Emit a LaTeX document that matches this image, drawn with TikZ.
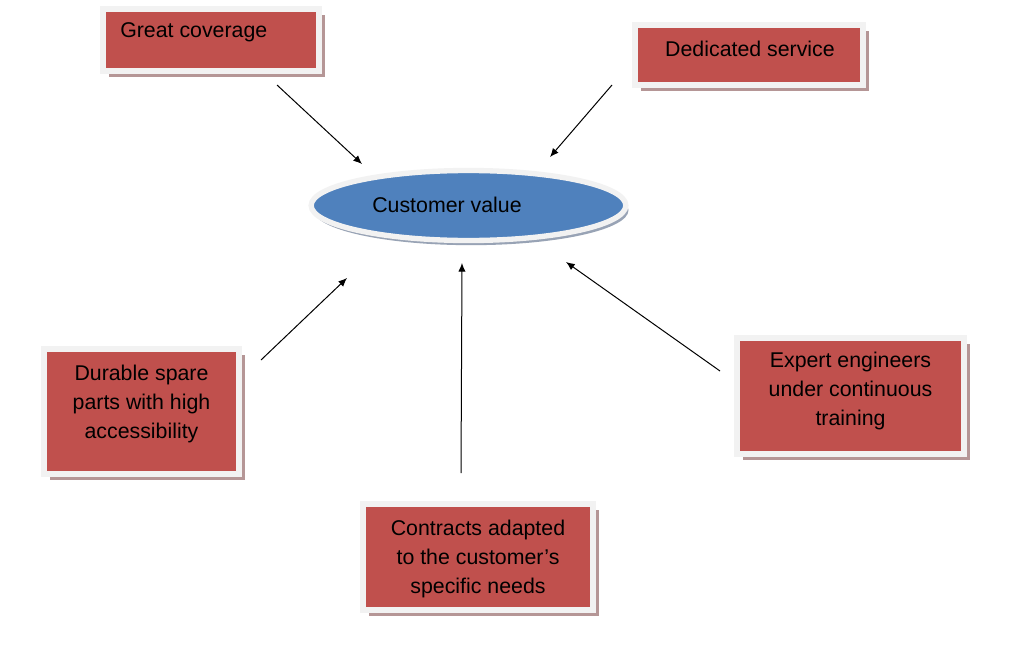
\documentclass[tikz,border=0pt]{standalone}
\usepackage{fontspec}
\setmainfont{Liberation Sans}
\usetikzlibrary{arrows.meta,shadows,shapes.geometric}
\definecolor{boxred}{HTML}{C0504D}
\definecolor{cvblue}{HTML}{4F81BD}
\definecolor{framegray}{HTML}{F2F2F2}
\definecolor{redshadow}{HTML}{B59696}
\definecolor{blueshadow}{HTML}{98A3B5}
\begin{document}
\begin{tikzpicture}[x=0.75pt,y=-0.75pt,
  redbox/.style={rectangle, fill=boxred, draw=framegray, line width=4.5pt,
    inner sep=0pt,
    drop shadow={shadow xshift=4.5pt, shadow yshift=-4.5pt, fill=redshadow, opacity=1}},
  cvell/.style={ellipse, fill=cvblue, draw=framegray, line width=4pt, inner sep=0pt,
    drop shadow={shadow xshift=2pt, shadow yshift=-3.5pt, fill=blueshadow, opacity=1}},
  lbl/.style={font=\fontsize{16pt}{21.75pt}\selectfont, align=center, inner sep=0pt, text=black},
  conn/.style={-{Latex[length=6.5pt,width=5.5pt]}, line width=0.75pt, black}
]
\useasboundingbox[fill=white] (0,0) rectangle (1011,646);
% boxes
\node[redbox, minimum width=162pt, minimum height=46.5pt] (gc) at (211,40) {};
\node[redbox, minimum width=171pt, minimum height=45pt] (ds) at (749,55) {};
\node[redbox, minimum width=146.25pt, minimum height=93.75pt] (dp) at (141.5,411.5) {};
\node[redbox, minimum width=172.5pt, minimum height=79.5pt] (ca) at (478,557) {};
\node[redbox, minimum width=170.25pt, minimum height=87pt] (ee) at (850.5,396) {};
% central ellipse
\node[cvell, minimum width=236pt, minimum height=52.5pt] (cv) at (468.5,205.5) {};
% texts
\node[lbl, anchor=west] (gct) at (120,32.5) {Great coverage};
\node[lbl] (dst) at (750,48.5) {Dedicated service};
\node[lbl] (cvt) at (447,205) {Customer value};
\node[lbl] (dpt) at (141.5,403.5) {Durable spare\\parts with high\\accessibility};
\node[lbl] (cat) at (478,558.5) {Contracts adapted\\to the customer’s\\specific needs};
\node[lbl] (eet) at (850.5,390.5) {Expert engineers\\under continuous\\training};
% connector ends
\coordinate (gcs) at (277,85);  \coordinate (gce) at (362,164);
\coordinate (dss) at (612,85);  \coordinate (dse) at (550,157);
\coordinate (dps) at (261,360); \coordinate (dpe) at (347,278);
\coordinate (cas) at (461,473); \coordinate (cae) at (462,263);
\coordinate (ees) at (720,371); \coordinate (eee) at (566,262);
\draw[conn] (gcs) -- (gce);
\draw[conn] (dss) -- (dse);
\draw[conn] (dps) -- (dpe);
\draw[conn] (cas) -- (cae);
\draw[conn] (ees) -- (eee);
\end{tikzpicture}
\end{document}
